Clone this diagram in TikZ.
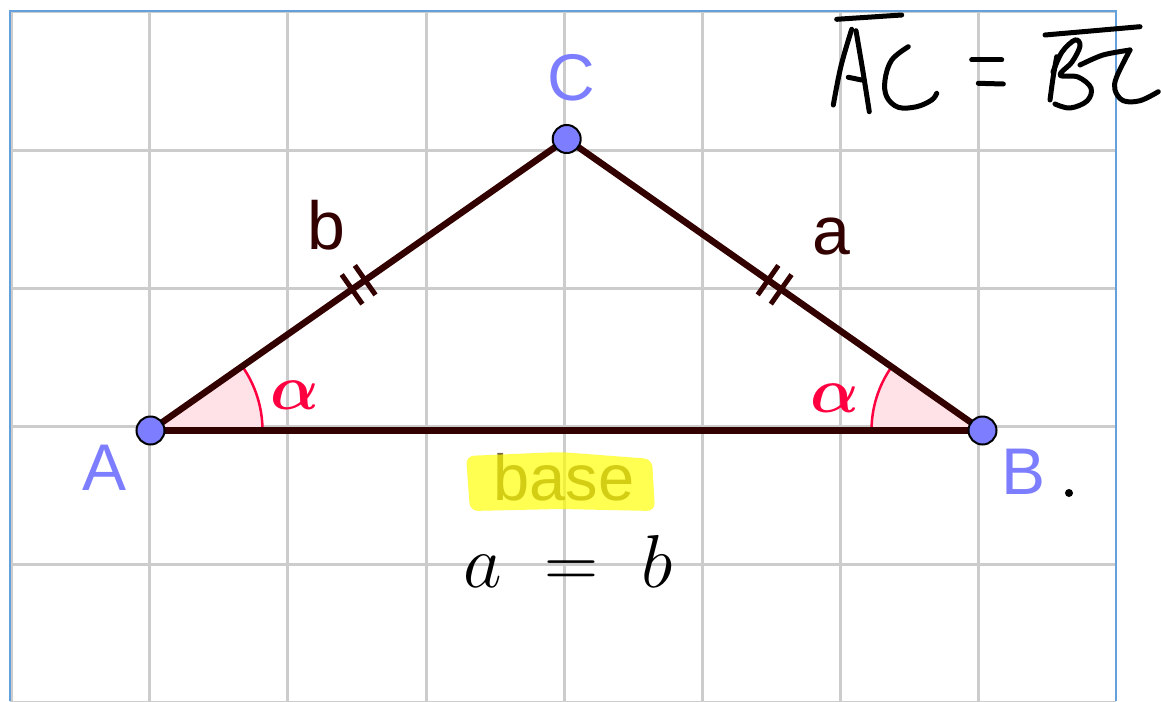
\RequirePackage{fix-cm}
\documentclass[tikz,border=0pt]{standalone}
\usepackage{amsmath}
\usepackage{fontspec}
\newfontfamily\geofont{Liberation Sans}
\usetikzlibrary{calc}
\definecolor{segcol}{RGB}{51,0,0}
\definecolor{ptcol}{RGB}{125,125,255}
\definecolor{gridcol}{RGB}{204,204,204}
\definecolor{framecol}{RGB}{100,160,220}
\definecolor{angred}{RGB}{255,0,64}
\definecolor{angfill}{RGB}{255,226,232}
\definecolor{hlcol}{RGB}{255,255,0}
\definecolor{basecol}{RGB}{120,100,60}
\begin{document}
\begin{tikzpicture}[x=1pt,y=-1pt,
  seg/.style={draw=segcol, line width=6.5pt},
  tickmark/.style={draw=segcol, line width=5pt},
  pt/.style={circle, draw=black, line width=2pt, fill=ptcol, minimum size=28pt, inner sep=0pt},
  ptlabel/.style={text=ptcol, font=\geofont\fontsize{66}{70}\selectfont, inner sep=0pt},
  sidelabel/.style={text=segcol, font=\geofont\fontsize{68}{72}\selectfont, inner sep=0pt},
  anglabel/.style={text=angred, font=\fontsize{64}{70}\selectfont, inner sep=0pt},
  angarc/.style={draw=angred, line width=2.5pt},
  hand/.style={draw=black, line width=5pt, line cap=round, line join=round},
  gridline/.style={draw=gridcol, line width=3pt},
]
\useasboundingbox (0,0) rectangle (1161,701);
\fill[white] (0,0) rectangle (1161,701);
% grid
\begin{scope}
\clip (10,11) rectangle (1116,701);
\foreach \k in {-1,...,7} \draw[gridline] (149.7+138.2*\k,0) -- (149.7+138.2*\k,701);
\foreach \k in {-1,...,4} \draw[gridline] (0,150+138*\k) -- (1161,150+138*\k);
\end{scope}
\draw[framecol, line width=2.5pt] (10,701) -- (10,11) -- (1116,11) -- (1116,701);

% points
\coordinate (pA) at (150.5,430.5);
\coordinate (pB) at (982.5,430.5);
\coordinate (pC) at (566.7,139);

% angles
\fill[angfill] (pA) -- ++(0:112) arc[start angle=0, end angle=-35, radius=112] -- cycle;
\draw[angarc] (pA) ++(0:112) arc[start angle=0, end angle=-35, radius=112];
\fill[angfill] (pB) -- ++(180:111) arc[start angle=180, end angle=215, radius=111] -- cycle;
\draw[angarc] (pB) ++(180:111) arc[start angle=180, end angle=215, radius=111];

% segments
\draw[seg] (pA) -- (pB);
\draw[seg] (pA) -- (pC);
\draw[seg] (pB) -- (pC);

% tick marks
\coordinate (mAC) at ($(pA)!0.5!(pC)$);
\coordinate (tA1) at ($(mAC)!-8pt!(pC)$);
\coordinate (tA2) at ($(mAC)!8pt!(pC)$);
\draw[tickmark] ($(tA1)!18pt!90:(pC)$) -- ($(tA1)!18pt!-90:(pC)$);
\draw[tickmark] ($(tA2)!18pt!90:(pC)$) -- ($(tA2)!18pt!-90:(pC)$);
\coordinate (mBC) at ($(pB)!0.5!(pC)$);
\coordinate (tB1) at ($(mBC)!-8pt!(pC)$);
\coordinate (tB2) at ($(mBC)!8pt!(pC)$);
\draw[tickmark] ($(tB1)!18pt!90:(pC)$) -- ($(tB1)!18pt!-90:(pC)$);
\draw[tickmark] ($(tB2)!18pt!90:(pC)$) -- ($(tB2)!18pt!-90:(pC)$);

\node[pt] (A) at (pA) {};
\node[pt] (B) at (pB) {};
\node[pt] (C) at (pC) {};

% labels
\node[ptlabel] (lA) at (105,468) {A};
\node[ptlabel] (lB) at (1023.5,472) {B};
\node[ptlabel] (lC) at (571,77.5) {C};
\node[sidelabel] (lb) at (326,225) {b};
\node[sidelabel] (la) at (831,236.5) {a};
\node[anglabel] (alA) at (295,395) {$\boldsymbol{\alpha}$};
\node[anglabel] (alB) at (835,398) {$\boldsymbol{\alpha}$};
\node[circle, fill=black, minimum size=8pt, inner sep=0pt] (dot) at (1069,493) {};

% base with highlight
\node[text=basecol, font=\geofont\fontsize{65}{70}\selectfont, inner sep=0pt] (base) at (564,477.5) {base};
\fill[hlcol, opacity=0.68, rounded corners=8pt] (466,456) -- (560,452) -- (652,459) -- (655,511) -- (560,509) -- (470,511) -- cycle;

% equation
\node[font=\fontsize{75}{80}\selectfont, inner sep=0pt, anchor=base] (eq) at (568,587) {$a\hspace{22pt}=\hspace{22pt}b$};

% handwriting
\draw[hand] (836.7,19.3) -- (901.7,15);
\draw[hand] plot[smooth, tension=0.6] coordinates {(851.7,29.3) (841,66) (833.3,105)};
\draw[hand] plot[smooth, tension=0.6] coordinates {(856,30.7) (863,72) (869.3,111.7)};
\draw[hand] (848.3,77.3) -- (861.7,80);
\draw[hand] plot[smooth, tension=0.6] coordinates {(908.3,46.7) (891.7,60) (885,80) (886.7,96.7) (898.3,107.3) (916.7,106.7) (931.7,100) (936.7,93.3)};
\draw[hand] (971.7,60) -- (1001.7,60);
\draw[hand] (978.3,83.3) -- (1003.3,84);
\draw[hand] (1045,35) -- (1140,26.7);
\draw[hand] plot[smooth, tension=0.6] coordinates {(1056.7,56.7) (1053,78) (1050,100)};
\draw[hand] plot[smooth, tension=0.6] coordinates {(1053,72) (1062,52) (1075,40) (1080,46) (1072,62) (1060,75) (1078,77) (1091,88) (1087,101) (1070,108) (1055,104)};
\draw[hand] plot[smooth, tension=0.5] coordinates {(1080,65) (1103,55) (1130,50)};
\draw[hand] plot[smooth, tension=0.6] coordinates {(1130,50) (1116.7,76.7) (1115,90) (1123.3,100.7) (1140,100.7) (1158.3,91.7)};
\end{tikzpicture}
\end{document}
